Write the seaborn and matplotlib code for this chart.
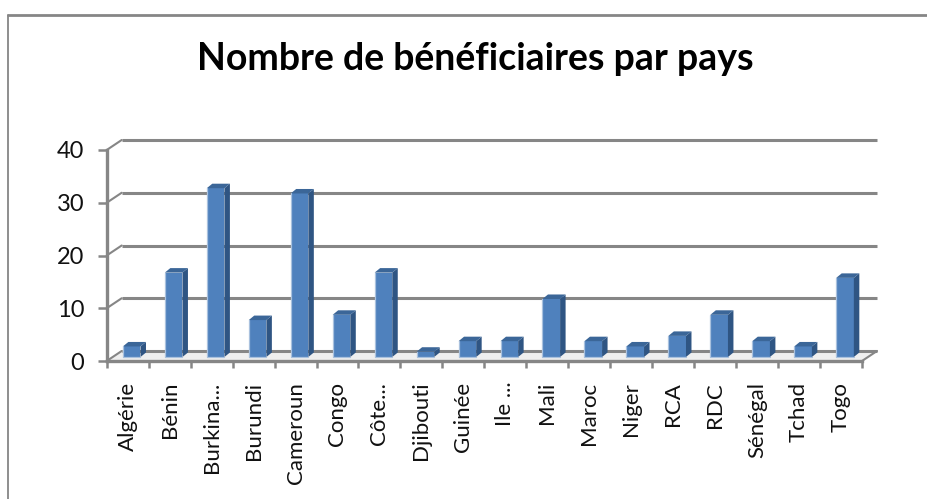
import matplotlib
matplotlib.use('Agg')
import matplotlib.pyplot as plt
import matplotlib.transforms as mtrans
from matplotlib.lines import Line2D
from matplotlib.patches import Polygon
import numpy as np
import pandas as pd
import seaborn as sns

pays = ['Algérie', 'Bénin', 'Burkina...', 'Burundi', 'Cameroun', 'Congo', 'Côte...',
        'Djibouti', 'Guinée', 'Ile ...', 'Mali', 'Maroc', 'Niger', 'RCA', 'RDC',
        'Sénégal', 'Tchad', 'Togo']
beneficiaires = [2, 16, 32, 7, 31, 8, 16, 1, 3, 3, 11, 3, 2, 4, 8, 3, 2, 15]
yticks = [0, 10, 20, 30, 40]
titre = 'Nombre de bénéficiaires par pays'

GREY = '#868686'
W, H = 928, 499
left, right, bottom, top = 106.7, 862, 361, 150

sns.set_theme(style='white')
plt.rcParams['font.family'] = ['Lato', 'DejaVu Sans']

fig = plt.figure(figsize=(W / 100, H / 100), dpi=100)
ax = fig.add_axes([left / W, 1 - bottom / H, (right - left) / W, (bottom - top) / H])

df = pd.DataFrame({'pays': pays, 'n': beneficiaires})
sns.barplot(data=df, x='pays', y='n', color='#4f81bd', saturation=1, width=0.42, ax=ax, zorder=5, linewidth=0)
bars = list(ax.patches)
ax.set_xlim(-0.5, len(pays) - 0.5)
ax.set_ylim(0, 40)
ax.set_xlabel('')
ax.set_ylabel('')

# fake 3D: back wall is shifted by pixels, bars sit half way in
back = mtrans.offset_copy(ax.transData, fig, x=15, y=10, units='dots')
mid = mtrans.offset_copy(ax.transData, fig, x=4, y=4, units='dots')

xa, xb = ax.get_xlim()
dx_floor, dy_floor = 15 / 42, 10 / 5.275
for v in yticks:
    ax.plot([xa, xb], [v, v], color=GREY, lw=2.2, transform=back, clip_on=False, zorder=2, solid_capstyle='butt')
    # little diagonal from the front tick to the wall
    ax.plot([xa, xa + dx_floor], [v, v + dy_floor], color=GREY, lw=1.5, clip_on=False, zorder=2)

ax.add_patch(Polygon([(xa, 0), (xb, 0), (xb + dx_floor, dy_floor), (xa + dx_floor, dy_floor)],
                     closed=True, fc='#efefef', ec='none', zorder=1, clip_on=False))
ax.plot([xb, xb + dx_floor], [0, dy_floor], color=GREY, lw=1.5, clip_on=False, zorder=2)

dx, dy = 5.5 / 42, 4.5 / 5.275
for bar in bars:
    x0, x1 = bar.get_x(), bar.get_x() + bar.get_width()
    h = bar.get_height()
    bar.set_transform(mid)
    bar.set_clip_on(False)
    ax.add_patch(Polygon([(x1, 0), (x1 + dx, dy), (x1 + dx, h + dy), (x1, h)], closed=True,
                         fc='#2f5583', ec='none', transform=mid, clip_on=False, zorder=5))
    ax.add_patch(Polygon([(x0, h), (x0 + dx, h + dy), (x1 + dx, h + dy), (x1, h)], closed=True,
                         fc='#3b6698', ec='none', transform=mid, clip_on=False, zorder=5))
    ax.plot([x0, x0, x1], [h, 0, 0], color='#a9c1de', lw=0.9, transform=mid, clip_on=False, zorder=6)

sns.despine(ax=ax, top=True, right=True)
for s in ['left', 'bottom']:
    ax.spines[s].set_color(GREY)
    ax.spines[s].set_linewidth(2.4)
    ax.spines[s].set_zorder(3)

ax.set_yticks(yticks)
ax.set_xticks(range(len(pays)))
ax.set_xticklabels(pays, rotation=90, fontsize=16, color='#111111', va='top')
ax.set_xticks(np.arange(-0.5, len(pays)), minor=True)
ax.tick_params(axis='x', which='major', length=0, pad=15, bottom=True)
ax.tick_params(axis='x', which='minor', length=5, width=1.8, color=GREY, bottom=True)
ax.tick_params(axis='y', length=6.3, width=1.8, color=GREY, labelsize=17, labelcolor='#111111', pad=10, left=True)

fig.text(475 / W, 1 - 59 / H, titre, ha='center', va='center', fontsize=27, fontweight='bold', color='black')

# chart frame, open on the right and bottom
fig.add_artist(Line2D([8 / W, 8 / W], [0, 1 - 15 / H], color=GREY, lw=1.3))
fig.add_artist(Line2D([8 / W, 1], [1 - 15 / H, 1 - 15 / H], color=GREY, lw=2))

fig.savefig('out.png', dpi=100)
